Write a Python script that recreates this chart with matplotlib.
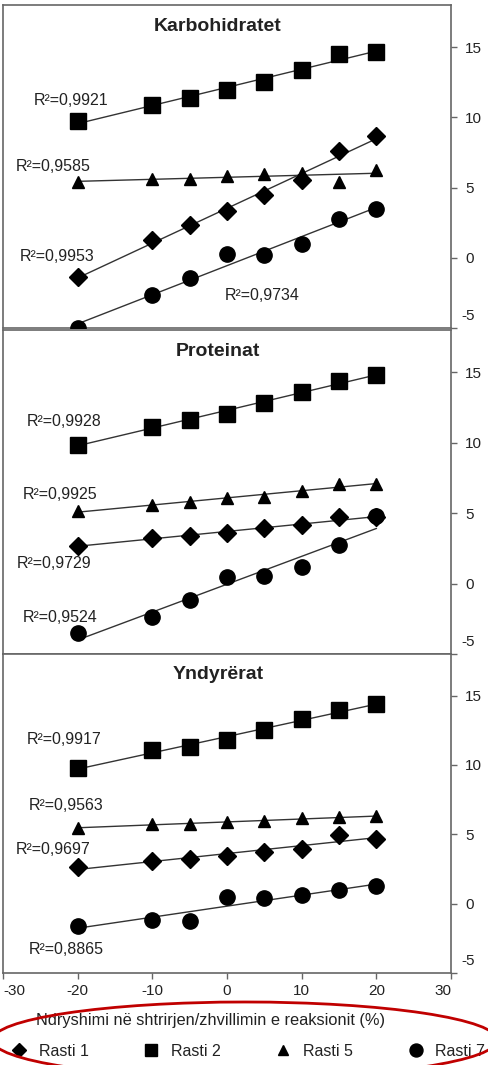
import numpy as np
import matplotlib
matplotlib.use("Agg")
import matplotlib.pyplot as plt
from matplotlib.patches import Ellipse
from matplotlib.lines import Line2D

plt.rcParams['font.family'] = ['Liberation Sans', 'DejaVu Sans']

# ---------------- data ----------------
x_vals = [-20, -10, -5, 0, 5, 10, 15, 20]
series_names = ["Rasti 1", "Rasti 2", "Rasti 5", "Rasti 7"]
panel_titles = ["Karbohidratet", "Proteinat", "Yndyrërat"]

carb_r1 = [-1.36, 1.26, 2.31, 3.33, 4.50, 5.55, 7.62, 8.67]
carb_r2 = [9.74, 10.88, 11.38, 11.93, 12.55, 13.38, 14.52, 14.64]
carb_r5 = [5.40, 5.59, 5.59, 5.83, 5.95, 6.07, 5.40, 6.24]
carb_r7 = [-5.00, -2.62, -1.43, 0.24, 0.19, 0.95, 2.79, 3.50]

prot_r1 = [2.70, 3.20, 3.41, 3.60, 3.95, 4.14, 4.70, 4.70]
prot_r2 = [9.87, 11.12, 11.64, 12.06, 12.83, 13.59, 14.36, 14.81]
prot_r5 = [5.13, 5.60, 5.78, 6.06, 6.18, 6.58, 7.05, 7.05]
prot_r7 = [-3.53, -2.40, -1.18, 0.47, 0.54, 1.20, 2.73, 4.77]

yndy_r1 = [2.61, 3.08, 3.25, 3.44, 3.75, 3.96, 4.98, 4.68]
yndy_r2 = [9.80, 11.08, 11.27, 11.79, 12.53, 13.29, 13.93, 14.43]
yndy_r5 = [5.46, 5.74, 5.77, 5.86, 5.93, 6.17, 6.24, 6.29]
yndy_r7 = [-1.59, -1.19, -1.26, 0.48, 0.41, 0.64, 1.00, 1.26]

carb_r2_labels = ["R²=0,9953", "R²=0,9921", "R²=0,9585", "R²=0,9734"]
prot_r2_labels = ["R²=0,9729", "R²=0,9928", "R²=0,9925", "R²=0,9524"]
yndy_r2_labels = ["R²=0,9697", "R²=0,9917", "R²=0,9563", "R²=0,8865"]

x_ticks = [-30, -20, -10, 0, 10, 20, 30]
y_ticks = [-5, 0, 5, 10, 15]
x_label = "Ndryshimi në shtrirjen/zhvillimin e reaksionit (%)"

# ---------------- layout / style ----------------
W, H = 489, 1065
fig = plt.figure(figsize=(W / 100, H / 100), dpi=100)

markers = ["D", "s", "^", "o"]
msizes = [8.8, 11, 8.8, 11]
grey = "#666666"
txt = "#222222"

# label anchor positions (data coords) for R² texts, per panel, per series
label_pos = [
    [(-27.7, 0.1), (-25.9, 11.2), (-28.3, 6.5), (-0.3, -2.7)],
    [(-28.2, 1.4), (-26.8, 11.5), (-27.4, 6.3), (-27.4, -2.4)],
    [(-28.3, 3.9), (-26.8, 11.8), (-26.5, 7.1), (-26.6, -3.3)],
]

panels = [
    (carb_r1, carb_r2, carb_r5, carb_r7),
    (prot_r1, prot_r2, prot_r5, prot_r7),
    (yndy_r1, yndy_r2, yndy_r5, yndy_r7),
]
r2_labels = [carb_r2_labels, prot_r2_labels, yndy_r2_labels]

# pixel boxes (top, bottom) of each panel
boxes = [(5, 328), (330, 654), (654, 973)]
left_px, right_px = 3, 451

xs = np.array(x_vals, dtype=float)
for i, (series, (top, bot)) in enumerate(zip(panels, boxes)):
    ax = fig.add_axes([left_px / W, 1 - bot / H, (right_px - left_px) / W, (bot - top) / H])
    ax.set_xlim(-30, 30)
    ax.set_ylim(-5, 18)
    for j, ys in enumerate(series):
        ys = np.array(ys, dtype=float)
        k, b = np.polyfit(xs, ys, 1)
        xl = np.array([xs.min(), xs.max()])
        ax.plot(xl, k * xl + b, color="#333333", lw=1.0, zorder=2)
        ax.plot(xs, ys, linestyle="none", marker=markers[j], ms=msizes[j],
                color="black", zorder=3 + (1 if j == 3 else 0))
        lx, ly = label_pos[i][j]
        ax.text(lx, ly, r2_labels[i][j], fontsize=11.5, color=txt, ha="left", va="center")
    ax.text(-1.2, 16.5, panel_titles[i], fontsize=14, fontweight="bold",
            color=txt, ha="center", va="center")

    for sp in ax.spines.values():
        sp.set_color(grey)
        sp.set_linewidth(1.2)
    ax.yaxis.tick_right()
    ax.set_yticks(y_ticks)
    ax.set_yticklabels(["" if v == -5 else str(v) for v in y_ticks])
    ax.tick_params(axis="y", direction="out", length=4, width=1, color=grey,
                   labelsize=11, labelcolor=txt, pad=6)
    ax.annotate("-5", xy=(1, -5), xycoords=ax.get_yaxis_transform(),
                xytext=(7.5, 8.5), textcoords="offset points",
                ha="left", va="center", fontsize=11, color=txt)
    if i < 2:
        ax.set_xticks([])
    else:
        ax.set_xticks(x_ticks)
        ax.set_xticklabels([str(v) for v in x_ticks])
        ax.tick_params(axis="x", direction="out", length=4, width=1, color=grey,
                       labelsize=11, labelcolor=txt, pad=4)
        lbls = ax.get_xticklabels()
        lbls[0].set_horizontalalignment("left")
        lbls[-1].set_horizontalalignment("right")

fig.text(211 / W, 1 - 1020 / H, x_label, fontsize=11.8, color=txt,
         ha="center", va="center")

handles = [Line2D([], [], linestyle="none", marker=m, ms=s * 0.85, color="black")
           for m, s in zip(markers, msizes)]
fig.legend(handles, series_names, loc="center", bbox_to_anchor=(248 / W, 1 - 1051 / H),
           ncol=4, frameon=False, fontsize=11.5, handlelength=1.0, handletextpad=0.7,
           columnspacing=3.45, labelcolor=txt)

ell = Ellipse((245 / W, 1 - 1040 / H), 505 / W, 76 / H, transform=fig.transFigure,
              fill=False, edgecolor="#c00000", lw=2.0, clip_on=False, zorder=10)
fig.add_artist(ell)

fig.savefig("out.png", dpi=100)
